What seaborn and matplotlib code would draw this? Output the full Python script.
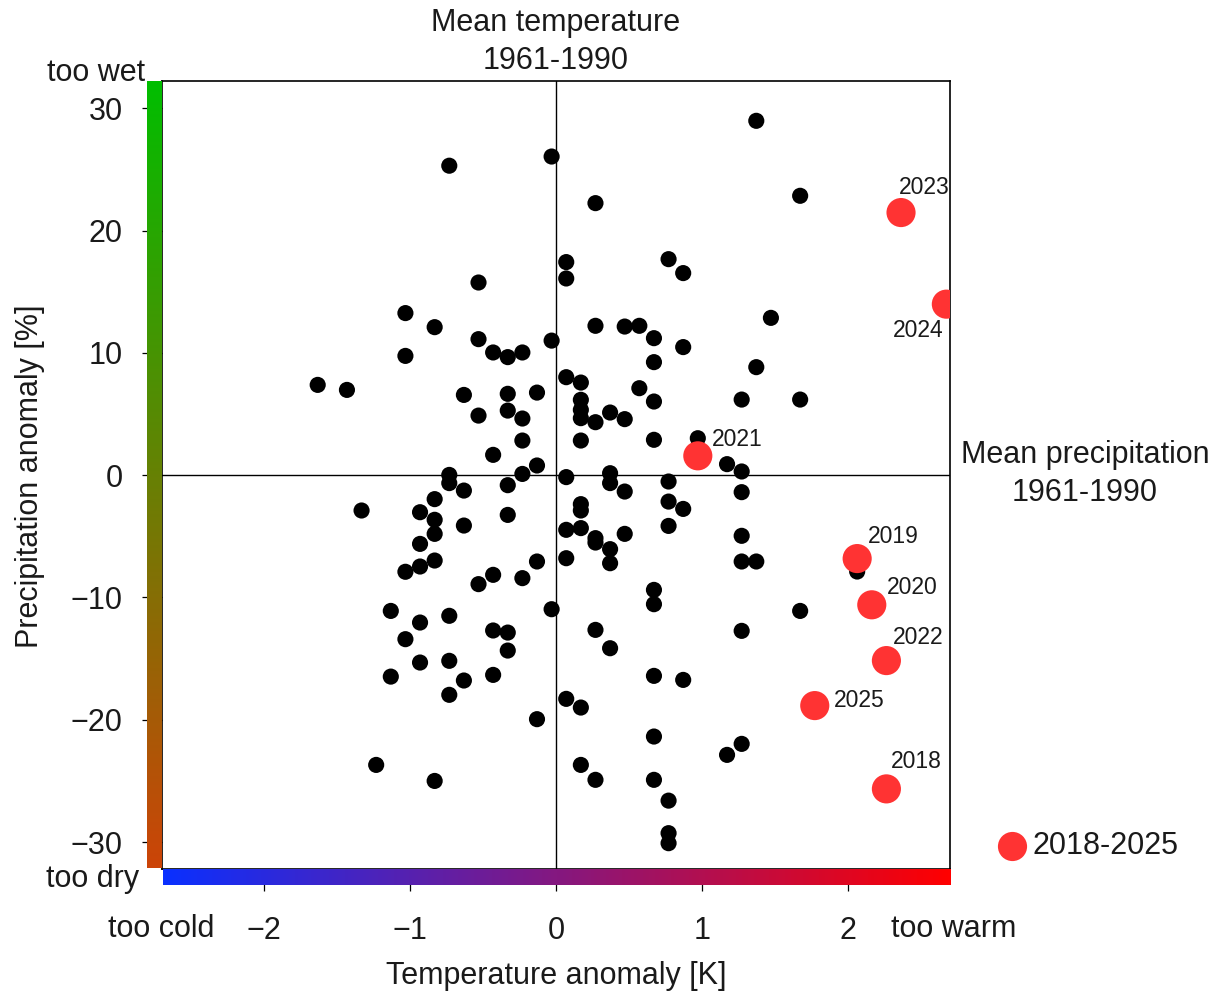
import numpy as np
import pandas as pd
import matplotlib
matplotlib.use("Agg")
import matplotlib.pyplot as plt
from matplotlib.colors import LinearSegmentedColormap
import seaborn as sns

# Annual anomalies relative to the 1961-1990 mean (earlier years)
temp_anom = [
    -0.73, -0.03, -0.53, -1.03, -0.83, -0.53, -0.43, -0.33, -0.23, -0.03,
    -1.03, -1.63, -1.43, -0.63, -0.33, -0.13, -0.53, -0.33, -0.23, -0.23,
    -0.43, -0.13, -0.73, -0.23,
    1.37, 0.27, 1.67, 0.07, 0.07, 0.77, 0.87, 1.47, 0.27, 0.47,
    0.57, 0.67, 0.87, 0.67, 1.37, 0.07, 0.17, 0.57, 0.17, 0.17,
    0.17, 0.27, 0.37, 0.47, 0.67, 1.27, 1.67, 0.17, 0.67, 0.97,
    1.17, 1.27, 0.37,
    -0.73, -0.63, -0.33, -0.83, -1.33, -0.93, -0.83, -0.83, -0.33, -0.63,
    -0.93, -0.83, -0.93, -1.03, -0.53, -0.43, -0.23, -0.13, -0.03, -1.13,
    -0.93, -0.73, -1.03, -0.43, -0.33, -0.33, -0.93, -0.73, -1.13, -0.63,
    -0.43, -0.73, -0.13, -1.23, -0.83,
    0.07, 0.37, 0.47, 0.77, 1.27, 0.77, 0.87, 0.17, 0.17, 0.07,
    0.17, 0.27, 0.27, 0.47, 0.37, 0.37, 0.07, 0.77, 1.27, 1.27,
    1.37, 2.06, 1.67, 0.67, 0.67, 0.27, 0.37, 1.27, 0.67, 0.87,
    0.07, 0.17, 0.67, 1.27, 1.17, 0.17, 0.27, 0.67, 0.77, 0.77,
    0.77,
]
precip_anom = [
    25.30, 26.05, 15.75, 13.25, 12.10, 11.12, 10.03, 9.65, 10.03, 11.00,
    9.75, 7.38, 6.97, 6.56, 6.65, 6.75, 4.87, 5.28, 4.63, 2.83,
    1.66, 0.79, 0.02, 0.10,
    28.97, 22.24, 22.84, 17.42, 16.08, 17.66, 16.52, 12.86, 12.21, 12.15,
    12.21, 11.20, 10.47, 9.24, 8.83, 8.01, 7.57, 7.11, 6.16, 5.34,
    4.66, 4.33, 5.12, 4.58, 6.02, 6.18, 6.18, 2.83, 2.89, 3.02,
    0.90, 0.30, 0.16,
    -0.65, -1.26, -0.82, -1.96, -2.89, -3.03, -3.65, -4.80, -3.25, -4.12,
    -5.62, -6.98, -7.47, -7.90, -8.91, -8.15, -8.42, -7.06, -10.96, -11.10,
    -12.05, -11.50, -13.41, -12.70, -12.87, -14.34, -15.32, -15.18, -16.47, -16.79,
    -16.33, -17.96, -19.95, -23.69, -25.00,
    -0.16, -0.65, -1.34, -0.52, -1.39, -2.16, -2.76, -2.37, -2.89, -4.47,
    -4.33, -5.15, -5.51, -4.80, -6.05, -7.20, -6.79, -4.15, -4.96, -7.06,
    -7.06, -7.88, -11.10, -9.38, -10.55, -12.65, -14.15, -12.73, -16.41, -16.74,
    -18.29, -19.00, -21.37, -21.97, -22.87, -23.69, -24.91, -24.91, -26.61, -29.27,
    -30.09,
]

# Recent years, highlighted
recent_years = [2018, 2019, 2020, 2021, 2022, 2023, 2024, 2025]
recent_temp = [2.26, 2.06, 2.16, 0.97, 2.26, 2.36, 2.67, 1.77]
recent_precip = [-25.65, -6.82, -10.60, 1.58, -15.16, 21.47, 13.98, -18.84]
recent_label = "2018-2025"

x_ticks = [-2, -1, 0, 1, 2]
y_ticks = [-30, -20, -10, 0, 10, 20, 30]

# label placement around each highlighted point (pixel offsets: right, down)
year_offsets = {2018: (30, -27), 2019: (36, -22), 2020: (40, -17), 2021: (39, -16),
                2022: (32, -23), 2023: (23, -25), 2024: (-28, 26), 2025: (44, -5)}

sns.set_theme(style="white")
plt.rcParams["font.family"] = ["Liberation Sans", "DejaVu Sans"]
TXT = "#1a1a1a"
RED = "#ff3333"
FS = 22

W, H = 1220, 997
fig = plt.figure(figsize=(W / 100, H / 100), dpi=100)


def fx(px):
    return px / W


def fy(py):
    return 1 - py / H


L, R, T, B = 162, 950, 80.7, 869
ax = fig.add_axes([fx(L), fy(B), fx(R - L), (B - T) / H])

base = pd.DataFrame({"temp": temp_anom, "precip": precip_anom})
recent = pd.DataFrame({"year": recent_years, "temp": recent_temp, "precip": recent_precip})

ax.axhline(0, color="black", lw=1.0, zorder=1)
ax.axvline(0, color="black", lw=1.0, zorder=1)

sns.scatterplot(data=base, x="temp", y="precip", color="black", s=135,
                edgecolor="none", linewidth=0, ax=ax, zorder=3, legend=False)
sns.scatterplot(data=recent, x="temp", y="precip", color=RED, s=440,
                edgecolor="none", linewidth=0, ax=ax, zorder=4, legend=False)

for yr, tx, pr in zip(recent_years, recent_temp, recent_precip):
    dx, dy = year_offsets[yr]
    ax.annotate(str(yr), (tx, pr), xytext=(dx * 0.72, -dy * 0.72),
                textcoords="offset points", ha="center", va="center",
                fontsize=16.5, color=TXT, zorder=5)

ax.set_xlim(-2.695, 2.695)
ax.set_ylim(-32.2, 32.25)
ax.set_xticks(x_ticks)
ax.set_yticks(y_ticks)
ax.set_xlabel("")
ax.set_ylabel("")
ax.tick_params(axis="y", direction="out", length=14.4, width=0.9, pad=14,
               labelsize=FS, labelcolor=TXT, color="black", left=True)
ax.tick_params(axis="x", direction="out", length=15.5, width=0.9, pad=18,
               labelsize=FS, labelcolor=TXT, color="black", bottom=True)
for sp in ax.spines.values():
    sp.set_visible(True)
    sp.set_color("black")
    sp.set_linewidth(1.2)

# colour strips along the axes
cmap_v = LinearSegmentedColormap.from_list("wetdry", ["#cc4408", "#00be00"])
cmap_h = LinearSegmentedColormap.from_list("coldwarm", ["#0a30ff", "#ff0000"])

axv = fig.add_axes([fx(147), fy(868), fx(15), (868 - T) / H])
axv.imshow(np.linspace(1, 0, 256).reshape(-1, 1), cmap=cmap_v, aspect="auto")
axv.set_axis_off()

axh = fig.add_axes([fx(162.5), fy(885), fx(R - 162.5), 16 / H])
axh.imshow(np.linspace(0, 1, 256).reshape(1, -1), cmap=cmap_h, aspect="auto")
axh.set_axis_off()

# surrounding labels
fig.text(fx(556), fy(42), "Mean temperature\n1961-1990", ha="center", va="center",
         fontsize=FS, color=TXT, linespacing=1.35)
fig.text(fx(1085), fy(474), "Mean precipitation\n1961-1990", ha="center", va="center",
         fontsize=FS, color=TXT, linespacing=1.35)
fig.text(fx(145), fy(73), "too wet", ha="right", va="center", fontsize=FS, color=TXT)
fig.text(fx(139), fy(879), "too dry", ha="right", va="center", fontsize=FS, color=TXT)
fig.text(fx(214), fy(929), "too cold", ha="right", va="center", fontsize=FS, color=TXT)
fig.text(fx(891), fy(929), "too warm", ha="left", va="center", fontsize=FS, color=TXT)
fig.text(fx(30), fy(476), "Precipitation anomaly [%]", rotation=90, ha="center",
         va="center", fontsize=FS, color=TXT)
fig.text(fx(556), fy(976), "Temperature anomaly [K]", ha="center", va="center",
         fontsize=FS, color=TXT)

# legend entry for the highlighted years
fig.lines.append(plt.Line2D([fx(1012)], [fy(846)], marker="o", ls="", markersize=21,
                            markerfacecolor=RED, markeredgewidth=0,
                            transform=fig.transFigure))
fig.text(fx(1033), fy(846), recent_label, ha="left", va="center", fontsize=FS, color=TXT)

fig.savefig("out.png", dpi=100)
